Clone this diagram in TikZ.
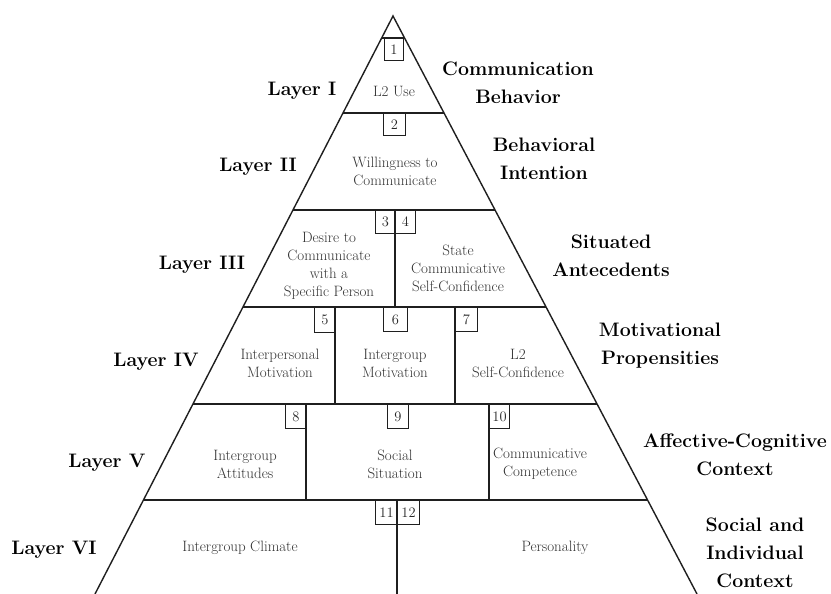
\documentclass[tikz,border=0pt]{standalone}
\begin{document}
\begin{tikzpicture}[x=1pt,y=-1pt,
  edge/.style={line width=1.4pt, draw=black!88, line join=miter},
  hline/.style={line width=1.8pt, draw=black!88},
  vline/.style={line width=1.1pt, draw=black!88},
  numbox/.style={draw=black!88, line width=1pt, inner sep=0pt, anchor=north west,
    minimum width=20pt, minimum height=23pt, font=\fontsize{14.5}{14.5}\selectfont, text=black!85},
  cell/.style={align=center, font=\fontsize{15}{18}\selectfont, text=black!80},
  layer/.style={font=\fontsize{19.5}{28}\selectfont\bfseries, text=black},
  cat/.style={align=center, font=\fontsize{19.5}{28}\selectfont\bfseries, text=black}]
\useasboundingbox (0,0) rectangle (831,594);
\fill[white] (0,0) rectangle (831,594);
% pyramid outline
\coordinate (apex) at (393,16);
\coordinate (bl) at (95,594);
\coordinate (br) at (697,594);
\draw[edge] (bl) -- (apex) -- (br);
% horizontal layer lines
\draw[hline] (381.7,38) -- (404.6,38);
\draw[hline] (343.0,113) -- (444.0,113);
\draw[hline] (293.0,210) -- (495.0,210);
\draw[hline] (243.0,307) -- (546.1,307);
\draw[hline] (193.0,404) -- (597.1,404);
\draw[hline] (143.4,500) -- (647.6,500);
% vertical dividers
\draw[vline] (395,210) -- (395,307);
\draw[vline] (335,307) -- (335,404);
\draw[vline] (455,307) -- (455,404);
\draw[vline] (306,404) -- (306,500);
\draw[vline] (489,404) -- (489,500);
\draw[vline] (397,500) -- (397,594);
% number boxes
\node[numbox, minimum width=19pt, minimum height=22pt] (n1) at (384,38) {1};
\node[numbox, minimum width=22pt, minimum height=22pt] (n2) at (383,113) {2};
\node[numbox] (n3) at (375,210) {3};
\node[numbox] (n4) at (395,210) {4};
\node[numbox, minimum width=21pt, minimum height=25pt] (n5) at (314,307) {5};
\node[numbox, minimum width=24pt, minimum height=24pt] (n6) at (383,307) {6};
\node[numbox, minimum width=22pt, minimum height=24pt] (n7) at (455,307) {7};
\node[numbox, minimum width=21pt, minimum height=24pt] (n8) at (285,404) {8};
\node[numbox, minimum width=21pt, minimum height=24pt] (n9) at (387,404) {9};
\node[numbox, minimum width=20pt, minimum height=24pt] (n10) at (489,404) {10};
\node[numbox, minimum width=22pt, minimum height=24pt] (n11) at (375,500) {11};
\node[numbox, minimum width=22pt, minimum height=24pt] (n12) at (397,500) {12};
% cell texts
\node[cell] (c1) at (394,91) {L2 Use};
\node[cell] (c2) at (395,171) {Willingness to\\Communicate};
\node[cell] (c3) at (329,266) {Desire to\\Communicate\\with a\\Specific Person};
\node[cell] (c4) at (458,268) {State\\Communicative\\Self-Confidence};
\node[cell] (c5) at (280,363) {Interpersonal\\Motivation};
\node[cell] (c6) at (395,363) {Intergroup\\Motivation};
\node[cell] (c7) at (518,363) {L2\\Self-Confidence};
\node[cell] (c8) at (245,464) {Intergroup\\Attitudes};
\node[cell] (c9) at (395,464) {Social\\Situation};
\node[cell] (c10) at (540,464) {Communicative\\Competence};
\node[cell] (c11) at (240,548) {Intergroup Climate};
\node[cell] (c12) at (555,548) {Personality};
% layer labels
\node[layer] (l1) at (302,91) {Layer I};
\node[layer] (l2) at (258,167) {Layer II};
\node[layer] (l3) at (202,265) {Layer III};
\node[layer] (l4) at (156,362) {Layer IV};
\node[layer] (l5) at (107,463) {Layer V};
\node[layer] (l6) at (54,550) {Layer VI};
% category labels
\node[cat] (k1) at (518,83) {Communication\\Behavior};
\node[cat] (k2) at (544,159) {Behavioral\\Intention};
\node[cat] (k3) at (611,256) {Situated\\Antecedents};
\node[cat] (k4) at (660,346) {Motivational\\Propensities};
\node[cat] (k5) at (735,455) {Affective-Cognitive\\Context};
\node[cat] (k6) at (755,553) {Social and\\Individual\\Context};
\end{tikzpicture}
\end{document}
